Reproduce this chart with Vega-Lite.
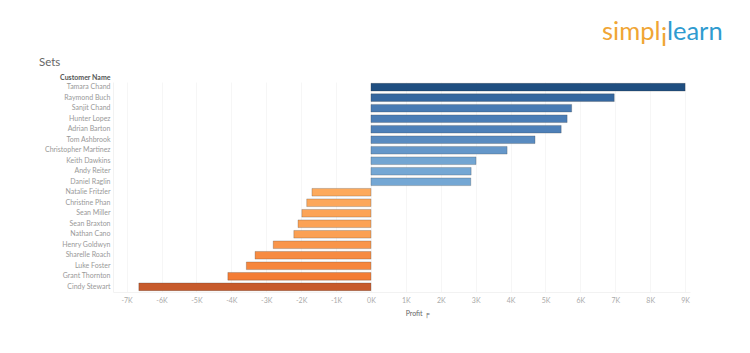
{
"$schema":"https://vega.github.io/schema/vega-lite/v6.json",
"width":577,"height":210,
"autosize":"none",
"padding":{"left":113,"top":82,"right":60,"bottom":61},
"background":"white",
"title":{"text":"Sets","anchor":"start","frame":"group","dx":-74,"offset":-48,"font":"Lato","fontSize":11.5,"fontWeight":"normal","color":"#666666"},
"config":{"view":{"stroke":null},"font":"Lato"},
"datasets":{
"bars":[
{"name":"Tamara Chand","profit":9000},
{"name":"Raymond Buch","profit":6970},
{"name":"Sanjit Chand","profit":5750},
{"name":"Hunter Lopez","profit":5620},
{"name":"Adrian Barton","profit":5450},
{"name":"Tom Ashbrook","profit":4700},
{"name":"Christopher Martinez","profit":3900},
{"name":"Keith Dawkins","profit":3010},
{"name":"Andy Reiter","profit":2870},
{"name":"Daniel Raglin","profit":2860},
{"name":"Natalie Fritzler","profit":-1690},
{"name":"Christine Phan","profit":-1840},
{"name":"Sean Miller","profit":-1980},
{"name":"Sean Braxton","profit":-2090},
{"name":"Nathan Cano","profit":-2210},
{"name":"Henry Goldwyn","profit":-2800},
{"name":"Sharelle Roach","profit":-3320},
{"name":"Luke Foster","profit":-3570},
{"name":"Grant Thornton","profit":-4100},
{"name":"Cindy Stewart","profit":-6650}
],
"logo":[
{"word":"simpl","name":"Tamara Chand","profit":6620,"tint":"#f0a534"},
{"word":"learn","name":"Tamara Chand","profit":8480,"tint":"#2f9bd0"}
],
"logoI":[
{"word":"i","name":"Tamara Chand","profit":8310,"tint":"#f0a534"}
]
},
"encoding":{
"x":{"field":"profit","type":"quantitative",
"scale":{"domain":[-7390,9140],"nice":false,"zero":false},
"axis":{"values":[-7000,-6000,-5000,-4000,-3000,-2000,-1000,0,1000,2000,3000,4000,5000,6000,7000,8000,9000],"labelExpr":"(datum.value/1000)+'K'","labelOverlap":false,"labelBound":false,"title":"Profit ╒","titleX":304,"titleY":17,"titleAlign":"center","titleFontSize":7,"titleFontWeight":"normal","titleColor":"#666666","titleFont":"Lato","labelFontSize":7,"labelColor":"#aaaaaa","labelFont":"Lato","labelPadding":4,"labelFlush":false,"ticks":false,"domain":true,"domainColor":"#f2f2f2","grid":true,"gridColor":"#f6f6f6","gridWidth":1}},
"y":{"field":"name","type":"nominal","sort":null,
"scale":{"domain":["Tamara Chand","Raymond Buch","Sanjit Chand","Hunter Lopez","Adrian Barton","Tom Ashbrook","Christopher Martinez","Keith Dawkins","Andy Reiter","Daniel Raglin","Natalie Fritzler","Christine Phan","Sean Miller","Sean Braxton","Nathan Cano","Henry Goldwyn","Sharelle Roach","Luke Foster","Grant Thornton","Cindy Stewart"],"paddingInner":0.27,"paddingOuter":0.13},
"axis":{"title":"Customer Name","titleAngle":0,"titleAlign":"right","titleBaseline":"middle","titleX":-3,"titleY":-5,"titleFontSize":7,"titleFontWeight":"bold","titleColor":"#555555","titleFont":"Lato","labelFontSize":7,"labelColor":"#999999","labelFont":"Lato","labelPadding":3,"ticks":false,"domain":true,"domainColor":"#f2f2f2","grid":false}}
},
"layer":[
{"mark":{"type":"bar","strokeWidth":0.7,"strokeOpacity":0.35,"stroke":"#333333"},
"data":{"name":"bars"},
"encoding":{
"color":{"field":"profit","type":"quantitative","legend":null,
"scale":{"domain":[-6650,-4100,-1690,-1,1,2860,5500,7000,9000],"range":["#c75a2b","#f47c34","#fdaa5c","#fdaa5c","#74a7d4","#74a7d4","#4d7fb7","#35679f","#1f4e80"],"interpolate":"rgb"}}
}},
{"mark":{"type":"text","align":"left","baseline":"alphabetic","dy":-47,"fontSize":25.5,"font":"Lato","fontWeight":400},
"data":{"name":"logo"},
"encoding":{
"text":{"field":"word"},
"color":{"field":"tint","type":"nominal","scale":null}
}},
{"mark":{"type":"text","align":"left","baseline":"alphabetic","dy":-41,"fontSize":25.5,"font":"Lato","fontWeight":400},
"data":{"name":"logoI"},
"encoding":{
"text":{"field":"word"},
"color":{"field":"tint","type":"nominal","scale":null}
}}
]
}
